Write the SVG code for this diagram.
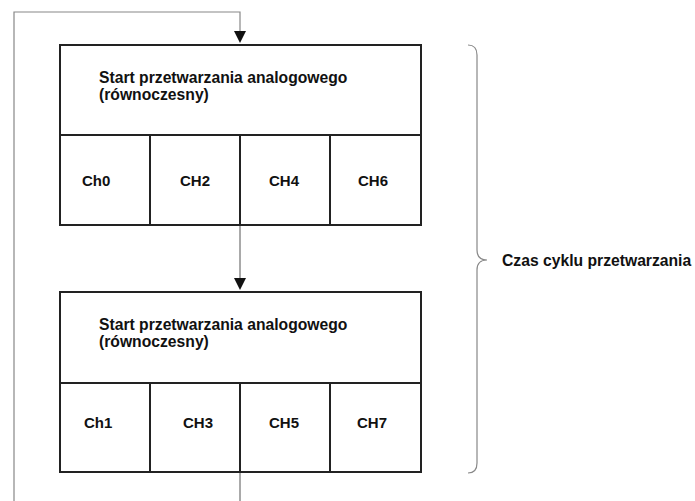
<svg xmlns="http://www.w3.org/2000/svg" width="695" height="501" viewBox="0 0 695 501">
<defs>
<style>
.box{fill:#fff;stroke:#222;stroke-width:2}
.div{stroke:#222;stroke-width:2;fill:none}
.con{stroke:#555;stroke-width:1;fill:none}
.loop{stroke:#888;stroke-width:1.2;fill:none}
.t{font-family:"Liberation Sans",Arial,sans-serif;font-weight:bold;font-size:15px;fill:#111}
.h{font-family:"Liberation Sans",Arial,sans-serif;font-weight:bold;font-size:15.7px;fill:#111}
.lbl{font-family:"Liberation Sans",Arial,sans-serif;font-weight:bold;font-size:15.7px;fill:#111}
</style>
</defs>
<rect width="695" height="501" fill="#fff"/>
<g id="connectors">
<path class="loop" d="M14,501 L14,12 L240,12 L240,31"/>
<path d="M234,31 L246,31 L240,43 Z" fill="#111"/>
<path class="con" d="M240,225 L240,278"/>
<path d="M234,278 L246,278 L240,290 Z" fill="#111"/>
<path class="con" d="M240,472 L240,501"/>
</g>
<g id="block1">
<rect class="box" x="60" y="45" width="361" height="180"/>
<path class="div" d="M60,135 L421,135 M150,135 L150,225 M240,135 L240,225 M330,135 L330,225"/>
<text class="h" x="99" y="83">Start przetwarzania analogowego</text>
<text class="h" x="99" y="100">(równoczesny)</text>
<text class="t" x="82" y="186">Ch0</text>
<text class="t" x="180" y="186">CH2</text>
<text class="t" x="269" y="186">CH4</text>
<text class="t" x="358" y="186">CH6</text>
</g>
<g id="block2">
<rect class="box" x="60" y="292" width="361" height="180"/>
<path class="div" d="M60,383 L421,383 M150,383 L150,472 M240,383 L240,472 M330,383 L330,472"/>
<text class="h" x="99" y="330">Start przetwarzania analogowego</text>
<text class="h" x="99" y="347">(równoczesny)</text>
<text class="t" x="84" y="428">Ch1</text>
<text class="t" x="183" y="428">CH3</text>
<text class="t" x="269" y="428">CH5</text>
<text class="t" x="357" y="428">CH7</text>
</g>
<g id="brace">
<path class="loop" d="M468,45 Q477,45 477,55 L477,250 Q477,260 487,260 Q477,260 477,270 L477,463 Q477,473 468,473"/>
<text class="lbl" x="502" y="266">Czas cyklu przetwarzania</text>
</g>
</svg>
